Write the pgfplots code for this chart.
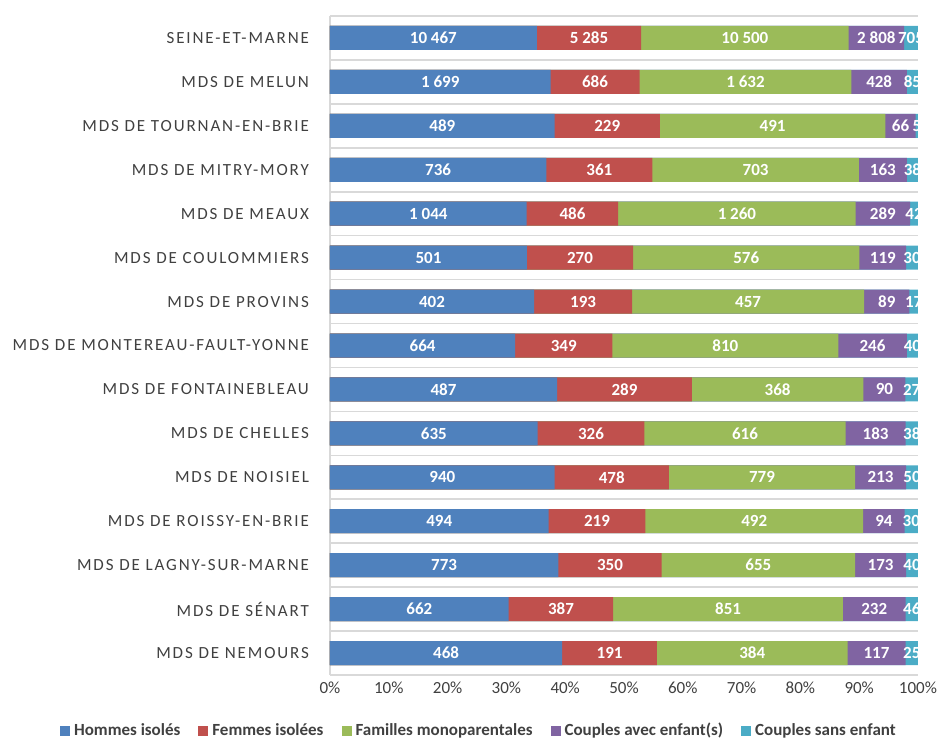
\documentclass[border=0pt]{standalone}
\usepackage{fontspec}
\setmainfont{Carlito}
\newfontfamily\spaced[LetterSpace=11]{Carlito}
\usepackage{pgfplots}
\pgfplotsset{compat=1.18}
\usepackage{pgfplotstable}

\definecolor{ch}{HTML}{4F81BD}
\definecolor{cf}{HTML}{C0504D}
\definecolor{cm}{HTML}{9BBB59}
\definecolor{cca}{HTML}{8064A2}
\definecolor{ccs}{HTML}{4BACC6}
\definecolor{cgrid}{HTML}{D9D9D9}
\definecolor{ctxt}{HTML}{404040}

% counts per household type, one row per territory (top to bottom)
\pgfplotstableread[col sep=comma]{
name,h,f,m,ca,cs
SEINE-ET-MARNE,10467,5285,10500,2808,705
MDS DE MELUN,1699,686,1632,428,85
MDS DE TOURNAN-EN-BRIE,489,229,491,66,5
MDS DE MITRY-MORY,736,361,703,163,38
MDS DE MEAUX,1044,486,1260,289,42
MDS DE COULOMMIERS,501,270,576,119,30
MDS DE PROVINS,402,193,457,89,17
MDS DE MONTEREAU-FAULT-YONNE,664,349,810,246,40
MDS DE FONTAINEBLEAU,487,289,368,90,27
MDS DE CHELLES,635,326,616,183,38
MDS DE NOISIEL,940,478,779,213,50
MDS DE ROISSY-EN-BRIE,494,219,492,94,30
MDS DE LAGNY-SUR-MARNE,773,350,655,173,40
MDS DE SÉNART,662,387,851,232,46
MDS DE NEMOURS,468,191,384,117,25
}\data

\newcommand\tot{(\thisrow{h}+\thisrow{f}+\thisrow{m}+\thisrow{ca}+\thisrow{cs})}

\begin{document}
\begin{tikzpicture}
\path[use as bounding box] (-165pt,-31.5pt) rectangle (304pt,337.5pt);
\begin{axis}[
 scale only axis, width=294pt, height=329.5pt,
 xmin=0, xmax=100, ymin=-0.5, ymax=14.5, y dir=reverse,
 /pgf/number format/assume math mode=true,
 xtick={0,10,...,100}, xticklabel={\pgfmathprintnumber{\tick}\%},
 xticklabel style={font=\fontsize{8.5}{10}\selectfont, text=ctxt},
 ytick={0,...,14}, yticklabels from table={\data}{name},
 yticklabel style={font=\spaced\fontsize{8.5}{10}\selectfont, text=ctxt, xshift=-7pt},
 major tick length=0pt, minor tick length=0pt,
 axis line style={draw=none},
 minor ytick={-0.5,0.5,...,14.5}, yminorgrids=true,
 minor grid style={cgrid, line width=0.8pt},
 extra x ticks={0}, extra x tick labels={},
 extra x tick style={grid=major, major grid style={cgrid, line width=0.8pt}},
 legend columns=5,
 legend image code/.code={\fill[#1, draw=none] (0pt,-2.5pt) rectangle (5pt,2.5pt);},
 legend style={draw=none, fill=none, at={(0.255,-0.085)}, anchor=center,
   font=\bfseries\fontsize{8.5}{10}\selectfont, text=ctxt,
   /tikz/every odd column/.append style={column sep=0pt},
   /tikz/every even column/.append style={column sep=7pt},
   /tikz/every node/.append style={inner xsep=2pt}},
 bars/.style={xbar, bar width=12pt, bar shift=0pt, draw=none, forget plot},
 labels/.style={draw=none, mark=none, forget plot, point meta=explicit,
   nodes near coords={\pgfmathprintnumber[1000 sep={\ }, fixed, precision=0]{\pgfplotspointmeta}},
   every node near coord/.append style={anchor=center, text=white,
     font=\bfseries\fontsize{8.5}{10}\selectfont}},
]
\addlegendimage{fill=ch, draw=none}
\addlegendentry{Hommes isolés}
\addlegendimage{fill=cf, draw=none}
\addlegendentry{Femmes isolées}
\addlegendimage{fill=cm, draw=none}
\addlegendentry{Familles monoparentales}
\addlegendimage{fill=cca, draw=none}
\addlegendentry{Couples avec enfant(s)}
\addlegendimage{fill=ccs, draw=none}
\addlegendentry{Couples sans enfant}

% cumulative shares, longest first so each shorter bar covers the previous one
\addplot[bars, fill=ccs] table[x expr={100*(\thisrow{h}+\thisrow{f}+\thisrow{m}+\thisrow{ca}+\thisrow{cs})/\tot}, y expr=\coordindex] {\data};
\addplot[bars, fill=cca] table[x expr={100*(\thisrow{h}+\thisrow{f}+\thisrow{m}+\thisrow{ca})/\tot}, y expr=\coordindex] {\data};
\addplot[bars, fill=cm] table[x expr={100*(\thisrow{h}+\thisrow{f}+\thisrow{m})/\tot}, y expr=\coordindex] {\data};
\addplot[bars, fill=cf] table[x expr={100*(\thisrow{h}+\thisrow{f})/\tot}, y expr=\coordindex] {\data};
\addplot[bars, fill=ch] table[x expr={100*\thisrow{h}/\tot}, y expr=\coordindex] {\data};

% value labels at segment centres
\addplot[labels] table[x expr={100*(\thisrow{h}/2)/\tot}, y expr=\coordindex, meta=h] {\data};
\addplot[labels] table[x expr={100*(\thisrow{h}+\thisrow{f}/2)/\tot}, y expr=\coordindex, meta=f] {\data};
\addplot[labels] table[x expr={100*(\thisrow{h}+\thisrow{f}+\thisrow{m}/2)/\tot}, y expr=\coordindex, meta=m] {\data};
\addplot[labels] table[x expr={100*(\thisrow{h}+\thisrow{f}+\thisrow{m}+\thisrow{ca}/2)/\tot}, y expr=\coordindex, meta=ca] {\data};
\addplot[labels] table[x expr={100*(\thisrow{h}+\thisrow{f}+\thisrow{m}+\thisrow{ca}+\thisrow{cs}/2)/\tot}, y expr=\coordindex, meta=cs] {\data};
\end{axis}
\end{tikzpicture}
\end{document}
